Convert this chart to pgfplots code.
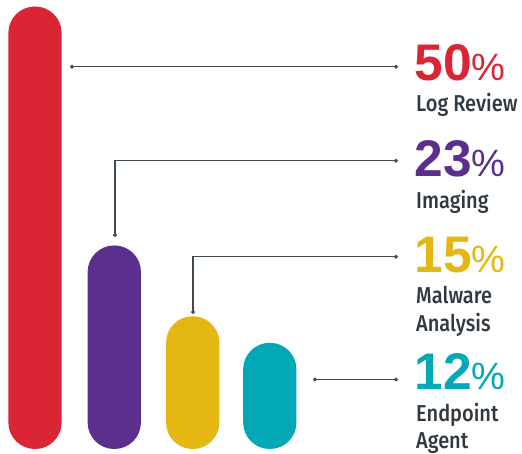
\documentclass[border=0pt]{standalone}
\usepackage{pgfplots}
\pgfplotsset{compat=1.18}
\usepackage{fontspec}
\setmainfont{Liberation Sans}
\newfontfamily\numfont{Liberation Sans}
\newfontfamily\labfont[UprightFont=* Medium,FakeStretch=0.87]{Fira Sans}
\definecolor{cred}{RGB}{218,37,52}
\definecolor{cpurple}{RGB}{92,47,142}
\definecolor{cyellow}{RGB}{229,183,18}
\definecolor{cteal}{RGB}{2,168,182}
\definecolor{linec}{RGB}{63,74,82}
\definecolor{labc}{RGB}{48,57,64}
\newcommand{\pct}[1]{{\numfont\fontsize{51.5}{52}\selectfont\bfseries #1\fontsize{38}{38}\selectfont\mdseries\%}}
\newcommand{\lab}[1]{{\labfont\fontsize{23}{27}\selectfont #1}}
\begin{document}
\begin{tikzpicture}
\useasboundingbox (0,0) rectangle (522pt,454pt);
\begin{axis}[at={(0,0)},anchor=south west,
  width=522pt,height=454pt,scale only axis,hide axis,clip=false,
  xmin=0,xmax=522,ymin=-0.565,ymax=50.734,
  ybar,bar width=53.3,bar shift=0pt]
\addplot[fill=cred,draw=none,rounded corners=26.5pt] coordinates {(35,50)};
\addplot[fill=cpurple,draw=none,rounded corners=26.5pt] coordinates {(114.3,23)};
\addplot[fill=cyellow,draw=none,rounded corners=26.5pt] coordinates {(192.7,15)};
\addplot[fill=cteal,draw=none,rounded corners=26.5pt] coordinates {(269.8,12)};
\end{axis}
\begin{axis}[at={(0,0)},anchor=south west,
  width=522pt,height=454pt,scale only axis,hide axis,clip=false,
  xmin=0,xmax=522,ymin=0,ymax=454,y dir=reverse,
  leader/.style={color=linec,line width=1.1pt,mark=*,mark size=1.4pt,mark options={fill=linec,draw=none}}]
\addplot[leader] coordinates {(72,66.7) (396,66.7)};
\addplot[leader,mark indices={1,3}] coordinates {(115,235) (115,160.7) (396,160.7)};
\addplot[leader,mark indices={1,3}] coordinates {(193,312) (193,256.7) (396,256.7)};
\addplot[leader] coordinates {(315,379.5) (396,379.5)};
\node[anchor=base west,inner sep=0,text=cred] at (axis cs:414.5,80.7) {\pct{50}};
\node[anchor=base west,inner sep=0,text=labc] at (axis cs:416,112) {\lab{Log Review}};
\node[anchor=base west,inner sep=0,text=cpurple] at (axis cs:414.5,176.7) {\pct{23}};
\node[anchor=base west,inner sep=0,text=labc] at (axis cs:416,208.3) {\lab{Imaging}};
\node[anchor=base west,inner sep=0,text=cyellow] at (axis cs:414.5,272.7) {\pct{15}};
\node[anchor=base west,inner sep=0,text=labc] at (axis cs:416,304) {\lab{Malware}};
\node[anchor=base west,inner sep=0,text=labc] at (axis cs:416,331) {\lab{Analysis}};
\node[anchor=base west,inner sep=0,text=cteal] at (axis cs:414.5,389.3) {\pct{12}};
\node[anchor=base west,inner sep=0,text=labc] at (axis cs:416,421.7) {\lab{Endpoint}};
\node[anchor=base west,inner sep=0,text=labc] at (axis cs:416,448.5) {\lab{Agent}};
\end{axis}
\end{tikzpicture}
\end{document}
